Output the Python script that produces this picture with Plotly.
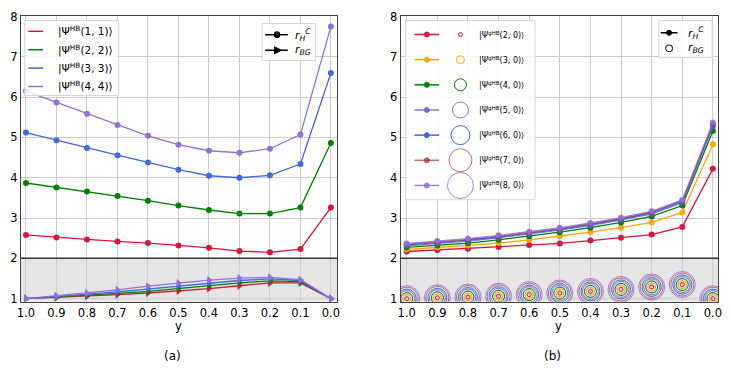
import plotly.graph_objects as go

W, H = 731, 374
FONT = "DejaVu Sans"

# shared x values (reversed axis)
y_vals = [1.0, 0.9, 0.8, 0.7, 0.6, 0.5, 0.4, 0.3, 0.2, 0.1, 0.0]
y_ticktext = ["1.0", "0.9", "0.8", "0.7", "0.6", "0.5", "0.4", "0.3", "0.2", "0.1", "0.0"]
r_ticks = [1, 2, 3, 4, 5, 6, 7, 8]

# panel (a): |Psi^HB(n, n)>
hb_labels = ["(1, 1)", "(2, 2)", "(3, 3)", "(4, 4)"]
hb_colors = ["#dc143c", "#008000", "#4169e1", "#9370db"]
rhc_11 = [2.58, 2.52, 2.47, 2.42, 2.38, 2.32, 2.26, 2.18, 2.15, 2.23, 3.26]
rhc_22 = [3.87, 3.76, 3.66, 3.55, 3.43, 3.31, 3.20, 3.11, 3.11, 3.26, 4.86]
rhc_33 = [5.12, 4.93, 4.74, 4.56, 4.38, 4.20, 4.05, 4.00, 4.06, 4.34, 6.60]
rhc_44 = [6.15, 5.87, 5.59, 5.31, 5.04, 4.82, 4.67, 4.62, 4.72, 5.07, 7.75]
rbg_11 = [1.00, 1.03, 1.06, 1.10, 1.14, 1.19, 1.25, 1.32, 1.39, 1.39, 1.00]
rbg_22 = [1.00, 1.04, 1.08, 1.13, 1.18, 1.25, 1.32, 1.39, 1.44, 1.42, 1.00]
rbg_33 = [1.00, 1.05, 1.11, 1.17, 1.24, 1.32, 1.39, 1.45, 1.49, 1.45, 1.00]
rbg_44 = [1.00, 1.07, 1.14, 1.22, 1.31, 1.39, 1.46, 1.51, 1.53, 1.47, 1.00]

# panel (b): |Psi^gHB(n, 0)>
ghb_labels = ["(2, 0)", "(3, 0)", "(4, 0)", "(5, 0)", "(6, 0)", "(7, 0)", "(8, 0)"]
ghb_colors = ["#dc143c", "#ffa500", "#008000", "rgba(106,90,205,0.8)",
              "#4169e1", "rgba(165,42,42,0.65)", "rgba(147,112,219,0.85)"]
ghb_sizes = [4, 8, 12, 16, 19, 23, 26]
rhc_20 = [2.17, 2.21, 2.24, 2.28, 2.33, 2.37, 2.44, 2.51, 2.59, 2.78, 4.22]
rhc_30 = [2.22, 2.27, 2.32, 2.38, 2.46, 2.55, 2.65, 2.76, 2.89, 3.14, 4.83]
rhc_40 = [2.27, 2.32, 2.38, 2.46, 2.55, 2.65, 2.76, 2.89, 3.04, 3.31, 5.16]
rhc_50 = [2.31, 2.37, 2.43, 2.51, 2.60, 2.70, 2.81, 2.95, 3.10, 3.38, 5.26]
rhc_60 = [2.33, 2.39, 2.45, 2.53, 2.62, 2.72, 2.84, 2.97, 3.13, 3.41, 5.31]
rhc_70 = [2.35, 2.41, 2.47, 2.55, 2.64, 2.74, 2.86, 2.99, 3.15, 3.43, 5.34]
rhc_80 = [2.37, 2.43, 2.49, 2.57, 2.66, 2.76, 2.88, 3.01, 3.17, 3.45, 5.37]
rbg_g = [1.00, 1.02, 1.04, 1.06, 1.10, 1.14, 1.18, 1.23, 1.29, 1.35, 1.00]

hb_rhc = [rhc_11, rhc_22, rhc_33, rhc_44]
hb_rbg = [rbg_11, rbg_22, rbg_33, rbg_44]
ghb_rhc = [rhc_20, rhc_30, rhc_40, rhc_50, rhc_60, rhc_70, rhc_80]


def px_x(v):
    return v / W


def px_y(v):
    return 1 - v / H


fig = go.Figure()

# (a) traces
for rbg, c in zip(hb_rbg, hb_colors):
    fig.add_trace(go.Scatter(x=y_vals, y=rbg, mode="lines+markers", xaxis="x", yaxis="y",
                             line=dict(color=c, width=1.3),
                             marker=dict(symbol="triangle-right", size=7, color=c),
                             showlegend=False))
for rhc, c in zip(hb_rhc, hb_colors):
    fig.add_trace(go.Scatter(x=y_vals, y=rhc, mode="lines+markers", xaxis="x", yaxis="y",
                             line=dict(color=c, width=1.3),
                             marker=dict(symbol="circle", size=6, color=c),
                             showlegend=False))

# (b) traces
for rhc, c in zip(ghb_rhc, ghb_colors):
    fig.add_trace(go.Scatter(x=y_vals, y=rhc, mode="lines+markers", xaxis="x2", yaxis="y2",
                             line=dict(color=c, width=1.3),
                             marker=dict(symbol="circle", size=6, color=c),
                             showlegend=False))
for s, c in zip(ghb_sizes, ghb_colors):
    fig.add_trace(go.Scatter(x=y_vals, y=rbg_g, mode="markers", xaxis="x2", yaxis="y2",
                             marker=dict(symbol="circle-open", size=s, color=c,
                                         line=dict(color=c, width=1)),
                             showlegend=False))

shapes = []
annotations = []

# grey band below r = 2 and the dividing line
for xr, yr in [("x", "y"), ("x2", "y2")]:
    shapes.append(dict(type="rect", xref=f"{xr} domain", yref=yr, x0=0, x1=1, y0=0.5, y1=2,
                       fillcolor="#e5e5e5", line=dict(width=0), layer="below"))
    shapes.append(dict(type="line", xref=f"{xr} domain", yref=yr, x0=0, x1=1, y0=2, y1=2,
                       line=dict(color="#333333", width=1.5), layer="above"))


def box(x0, y0, x1, y1):
    shapes.append(dict(type="rect", xref="paper", yref="paper",
                       x0=px_x(x0), x1=px_x(x1), y0=px_y(y1), y1=px_y(y0),
                       fillcolor="rgba(255,255,255,0.85)", line=dict(color="#d6d6d6", width=1),
                       layer="above"))


def seg(x0, x1, y, color):
    shapes.append(dict(type="line", xref="paper", yref="paper",
                       x0=px_x(x0), x1=px_x(x1), y0=px_y(y), y1=px_y(y),
                       line=dict(color=color, width=1.5), layer="above"))


def dot(x, y, d, color, filled=True):
    r = d / 2
    shapes.append(dict(type="circle", xref="paper", yref="paper",
                       xsizemode="pixel", ysizemode="pixel",
                       xanchor=px_x(x), yanchor=px_y(y), x0=-r, x1=r, y0=-r, y1=r,
                       fillcolor=color if filled else "rgba(0,0,0,0)",
                       line=dict(color=color, width=1), layer="above"))


def tri(x, y, d, color):
    r = d / 2
    shapes.append(dict(type="path", xref="paper", yref="paper",
                       xsizemode="pixel", ysizemode="pixel",
                       xanchor=px_x(x), yanchor=px_y(y),
                       path=f"M{-r},{r} L{r},0 L{-r},{-r} Z",
                       fillcolor=color, line=dict(color=color, width=1), layer="above"))


def label(x, y, text, size, anchor="left", vanchor="middle"):
    annotations.append(dict(xref="paper", yref="paper", x=px_x(x), y=px_y(y),
                            xanchor=anchor, yanchor=vanchor, text=text, showarrow=False,
                            borderpad=0,
                            font=dict(family=FONT, size=size, color="black")))


rhc_text = "<i>r</i><sub><i>H</i></sub><sup><i>C</i></sup>"
rbg_text = "<i>r</i><sub><i>BG</i></sub>"

# legend (a), states
box(21, 15, 116, 92)
for i, (lab, c) in enumerate(zip(hb_labels, hb_colors)):
    yy = 26 + i * 18.9
    seg(24.5, 39.5, yy, c)
    label(54, yy, f"|Ψ<sup>HB</sup>{lab}⟩", 10.5)

# legend (a), marker types
box(261, 18, 315, 56)
seg(264, 287, 29.5, "black")
dot(276, 29.5, 6, "black")
seg(264, 287, 45.5, "black")
tri(277, 45.5, 7, "black")
label(293, 29.5, rhc_text, 11)
label(293, 45.5, rbg_text, 11)

# legend (b), states
box(406, 15, 537, 199)
for i, (lab, c, s) in enumerate(zip(ghb_labels, ghb_colors, ghb_sizes)):
    yy = 29.3 + i * 25.85
    seg(415, 440, yy, c)
    dot(427.5, yy, 5, c)
    dot(461.5, yy, s, c, filled=False)
    label(479, yy, f"|Ψ<sup>gHB</sup>{lab}⟩", 8)

# legend (b), marker types
box(662, 15, 716, 53)
seg(664, 681, 27.5, "black")
dot(672.5, 27.5, 5, "black")
dot(672.5, 43.5, 7, "black", filled=False)
label(691, 27.5, rhc_text, 11)
label(691, 43.5, rbg_text, 11)

# axis titles and panel captions
label(176, 321, "y", 11.5, "center", "top")
label(561, 321, "y", 11.5, "center", "top")
label(170, 360, "(a)", 12, "center")
label(555, 360, "(b)", 12, "center")

axis_common = dict(showgrid=True, gridcolor="#cccccc", gridwidth=1, zeroline=False,
                   showline=True, linecolor="#444444", linewidth=1, mirror=True,
                   ticks="", ticklabeloverflow="allow",
                   tickfont=dict(family=FONT, size=11.5, color="black"))

fig.update_layout(
    width=W, height=H,
    margin=dict(l=0, r=0, t=0, b=0, pad=0),
    paper_bgcolor="white", plot_bgcolor="white",
    font=dict(family=FONT, size=11, color="black"),
    showlegend=False,
    xaxis=dict(axis_common, domain=[px_x(17), px_x(337)], range=[1.017, -0.021],
               tickvals=y_vals, ticktext=y_ticktext, anchor="y"),
    yaxis=dict(axis_common, domain=[px_y(304), px_y(10)], range=[0.92, 8.02],
               tickvals=r_ticks, anchor="x"),
    xaxis2=dict(axis_common, domain=[px_x(401), px_x(722)], range=[1.020, -0.017],
                tickvals=y_vals, ticktext=y_ticktext, anchor="y2"),
    yaxis2=dict(axis_common, domain=[px_y(304), px_y(10)], range=[0.92, 8.02],
                tickvals=r_ticks, anchor="x2"),
    shapes=shapes,
    annotations=annotations,
)

# drop the page's default body margin so the figure sits at the window's corner
fig.write_html("out.html", config={"displayModeBar": False},
               post_script="document.body.style.margin='0';")
